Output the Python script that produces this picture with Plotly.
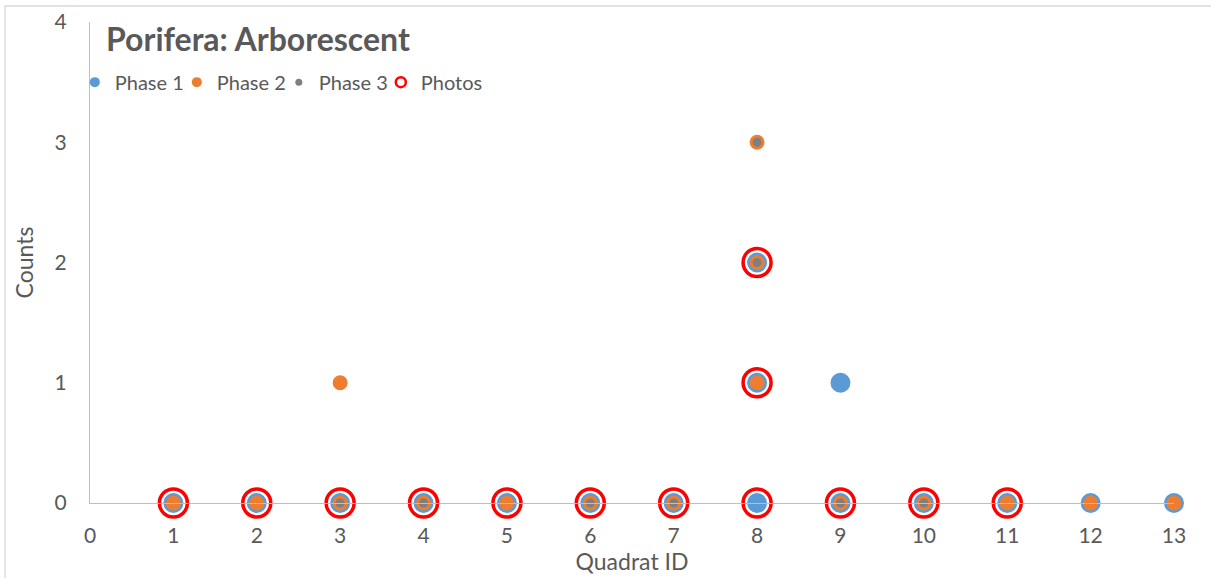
import plotly.graph_objects as go

# Counts per quadrat for each survey phase, plus quadrats with photo records
x_ticks = list(range(0, 14))
y_ticks = [0, 1, 2, 3, 4]

phase1_x = [1, 2, 3, 4, 5, 6, 7, 8, 8, 8, 9, 9, 10, 11, 12, 13]
phase1_y = [0, 0, 0, 0, 0, 0, 0, 0, 1, 2, 0, 1, 0, 0, 0, 0]

phase2_x = [1, 2, 3, 3, 4, 5, 6, 7, 8, 8, 8, 9, 10, 11, 12, 13]
phase2_y = [0, 0, 0, 1, 0, 0, 0, 0, 1, 2, 3, 0, 0, 0, 0, 0]

phase3_x = [3, 4, 6, 7, 8, 8, 9, 10]
phase3_y = [0, 0, 0, 0, 2, 3, 0, 0]

photos_x = [1, 2, 3, 4, 5, 6, 7, 8, 9, 10, 11, 8, 8]
photos_y = [0, 0, 0, 0, 0, 0, 0, 0, 0, 0, 0, 1, 2]

BLUE = "#5b9bd5"
ORANGE = "#ed7d31"
GRAY = "#7f7f7f"
RED = "#ff0000"
TEXT = "#595959"
AXIS = "#bfbfbf"
FONT = "Lato, 'Open Sans', sans-serif"

fig = go.Figure()

# data markers (legend drawn by separate entries so symbol sizes stay small)
fig.add_trace(go.Scatter(x=photos_x, y=photos_y, mode="markers", showlegend=False,
                         cliponaxis=False,
                         marker=dict(symbol="circle-open", size=28, color=RED,
                                     line=dict(width=3.5, color=RED))))
fig.add_trace(go.Scatter(x=phase1_x, y=phase1_y, mode="markers", showlegend=False,
                         cliponaxis=False,
                         marker=dict(size=20, color=BLUE, line=dict(width=0))))
fig.add_trace(go.Scatter(x=phase2_x, y=phase2_y, mode="markers", showlegend=False,
                         cliponaxis=False,
                         marker=dict(size=15, color=ORANGE, line=dict(width=0))))
fig.add_trace(go.Scatter(x=phase3_x, y=phase3_y, mode="markers", showlegend=False,
                         cliponaxis=False,
                         marker=dict(size=9, color=GRAY, line=dict(width=0))))

# legend entries
legend_specs = [
    ("Phase 1", dict(size=10, color=BLUE, line=dict(width=0))),
    ("Phase 2", dict(size=10, color=ORANGE, line=dict(width=0))),
    ("Phase 3", dict(size=7, color=GRAY, line=dict(width=0))),
    ("Photos", dict(symbol="circle-open", size=10, color=RED, line=dict(width=2.5, color=RED))),
]
for name, mk in legend_specs:
    fig.add_trace(go.Scatter(x=[None], y=[None], mode="markers", name=name, marker=mk))

fig.update_layout(
    width=1211, height=578,
    margin=dict(l=90, r=37, t=22, b=75),
    paper_bgcolor="white", plot_bgcolor="white",
    font=dict(family=FONT, color=TEXT, size=20),
    title=dict(text="<b>Porifera: Arborescent</b>", x=106 / 1211, xanchor="left",
               y=1 - 40 / 578, yanchor="middle",
               font=dict(family=FONT, size=32, color=TEXT)),
    legend=dict(orientation="h", x=-0.014, xanchor="left", y=0.875, yanchor="middle",
                bgcolor="rgba(0,0,0,0)", font=dict(size=20, color=TEXT),
                itemwidth=30, traceorder="normal",
                entrywidth=57, entrywidthmode="pixels"),
    xaxis=dict(range=[0, 13], tickvals=x_ticks, ticktext=[str(v) for v in x_ticks],
               showgrid=False, zeroline=False, showline=True, linecolor=AXIS, linewidth=1.3,
               ticks="", ticklabelstandoff=14, automargin=False,
               title=dict(text="Quadrat ID", font=dict(size=23, color=TEXT), standoff=4),
               tickfont=dict(size=21, color=TEXT)),
    yaxis=dict(range=[0, 4], tickvals=y_ticks, showgrid=False, zeroline=False,
               showline=True, linecolor=AXIS, linewidth=1.3, ticks="",
               ticklabelstandoff=18, automargin=False,
               title=dict(text="Counts", font=dict(size=23, color=TEXT), standoff=14),
               tickfont=dict(size=21, color=TEXT)),
    shapes=[dict(type="rect", xref="paper", yref="paper",
                 x0=(5 - 90) / 1084, x1=1.2, y0=-0.3, y1=(503 - 6) / 481,
                 line=dict(color="#d9d9d9", width=1.3), fillcolor="rgba(0,0,0,0)",
                 layer="below")],
)

fig.write_html("out.html")
